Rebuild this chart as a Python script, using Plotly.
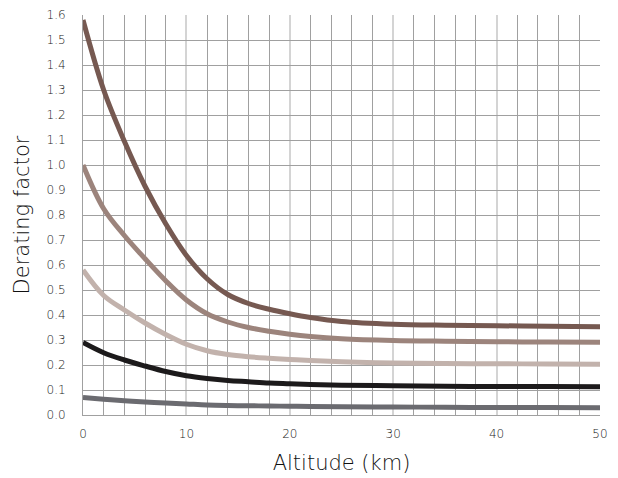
import plotly.graph_objects as go

altitude_km = [0, 2, 4, 6, 8, 10, 12, 14, 16, 18, 20, 22, 25, 30, 35, 40, 45, 50]

series_a = [1.58, 1.30, 1.095, 0.915, 0.765, 0.638, 0.545, 0.482, 0.446, 0.423, 0.405, 0.39, 0.374, 0.363, 0.359, 0.357, 0.355, 0.353]
series_b = [1.00, 0.825, 0.718, 0.625, 0.537, 0.460, 0.405, 0.372, 0.350, 0.335, 0.323, 0.314, 0.305, 0.298, 0.295, 0.293, 0.292, 0.291]
series_c = [0.58, 0.478, 0.420, 0.368, 0.322, 0.283, 0.257, 0.242, 0.233, 0.227, 0.222, 0.218, 0.213, 0.208, 0.206, 0.205, 0.204, 0.203]
series_d = [0.29, 0.249, 0.220, 0.196, 0.174, 0.157, 0.146, 0.138, 0.133, 0.128, 0.125, 0.122, 0.119, 0.117, 0.115, 0.114, 0.114, 0.113]
series_e = [0.07, 0.063, 0.057, 0.052, 0.048, 0.044, 0.040, 0.038, 0.037, 0.036, 0.035, 0.034, 0.033, 0.032, 0.031, 0.030, 0.030, 0.029]

series = [series_a, series_b, series_c, series_d, series_e]
colors = ["#765951", "#9c847c", "#c2b2ac", "#1c1a1b", "#6b6b70"]

y_ticks = [i / 10 for i in range(17)]
x_ticks = [0, 10, 20, 30, 40, 50]

fig = go.Figure()
for vals, col in zip(series, colors):
    fig.add_trace(go.Scatter(
        x=altitude_km, y=vals, mode="lines",
        line=dict(color=col, width=5, shape="spline", smoothing=1.0),
        showlegend=False, hoverinfo="skip",
    ))

font_family = "'DejaVu Sans', 'Open Sans', sans-serif"

fig.update_layout(
    width=618, height=478,
    margin=dict(l=83, r=18, t=15, b=63, autoexpand=False),
    paper_bgcolor="white", plot_bgcolor="white",
    font=dict(family=font_family, color="#222", weight=200),
    xaxis=dict(
        range=[0, 50], tickvals=x_ticks, ticktext=[str(v) for v in x_ticks],
        showgrid=True, gridcolor="#d4d4d4", gridwidth=2,
        minor=dict(dtick=2, showgrid=True, gridcolor="#a0a0a0", gridwidth=1),
        showline=True, linecolor="#a0a0a0", linewidth=1,
        zeroline=False, ticks="", ticklabelstandoff=8, automargin=False,
        tickfont=dict(size=12, color="#1a1a1a", weight=200),
        title=dict(text="Altitude (km)", font=dict(size=21, color="#111", weight=200), standoff=14),
    ),
    yaxis=dict(
        range=[0, 1.6], tickvals=y_ticks, ticktext=[f"{v:.1f}" for v in y_ticks],
        showgrid=True, gridcolor="#a0a0a0", gridwidth=1,
        showline=True, linecolor="#a0a0a0", linewidth=1,
        zeroline=False, ticks="", ticklabelstandoff=14, automargin=False,
        tickfont=dict(size=12, color="#1a1a1a", weight=200),
        title=dict(text="Derating factor", font=dict(size=21, color="#111", weight=200), standoff=11),
    ),
)

fig.write_html("out.html")
